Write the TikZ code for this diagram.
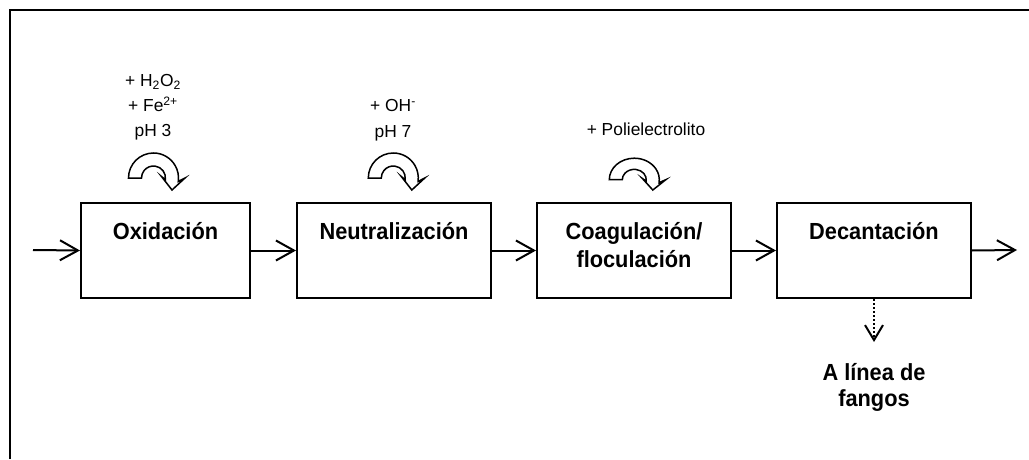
\documentclass[tikz,border=0pt]{standalone}
\usepackage{fontspec}
\setmainfont{Liberation Sans}
\newfontfamily\procfont{Liberation Sans}[FakeStretch=0.935]
\usetikzlibrary{arrows.meta}
\tikzset{
  proc/.style={draw, line width=2pt, minimum width=194pt, minimum height=95pt, inner sep=0pt},
  proctext/.style={font=\procfont\bfseries\fontsize{23.3}{28}\selectfont, inner sep=0pt, anchor=base},
  sludgetext/.style={font=\procfont\bfseries\fontsize{23.3}{26.5}\selectfont, inner sep=0pt, anchor=base},
  addtext/.style={font=\fontsize{17.4}{25}\selectfont, inner sep=0pt, anchor=base},
  flow/.style={line width=2pt, -{Straight Barb[length=18pt,width=20pt,line width=2pt]}},
  sludge/.style={line width=2pt, dash pattern=on 2pt off 2pt,
    -{Straight Barb[length=15pt,width=18pt,line width=2pt]}},
  pics/uturn/.style={code={
    \draw[line width=1.5pt, fill=white, line join=miter]
      (-25,0) arc[start angle=180, end angle=-8, radius=25]
      -- (31.5,0) -- (18.5,-12) -- (8,1.5) -- (-8:12)
      arc[start angle=-8, end angle=180, radius=12] -- cycle;
  }}
}
\begin{document}
\begin{tikzpicture}[x=1pt, y=1pt]
  \useasboundingbox (0,0) rectangle (1029,459);
  % open frame
  \draw[line width=2pt] (9.5,0) -- (9.5,449) -- (1029,449);

  % process units
  \node[proc, minimum width=169pt] (b1) at (165.5,208.5) {};
  \node[proc] (b2) at (394,208.5) {};
  \node[proc] (b3) at (634,208.5) {};
  \node[proc] (b4) at (874,208.5) {};

  \node[proctext] (t1) at ([yshift=-37pt]b1.north) {Oxidación};
  \node[proctext] (t2) at ([yshift=-37pt]b2.north) {Neutralización};
  \node[proctext] (t3) at ([yshift=-37pt]b3.north)
    {\begin{tabular}[t]{@{}c@{}}Coagulación/\\floculación\end{tabular}};
  \node[proctext] (t4) at ([yshift=-37pt]b4.north) {Decantación};

  % flow line
  \coordinate (in) at (33,209);
  \coordinate (out) at (1017,209);
  \draw[flow] (in) -- (b1.west);
  \draw[flow] (b1.east) -- (b2.west);
  \draw[flow] (b2.east) -- (b3.west);
  \draw[flow] (b3.east) -- (b4.west);
  \draw[flow] (b4.east) -- (out);

  % reagent dosing
  \node[addtext] (a1) at (153,372)
    {\begin{tabular}[t]{@{}c@{}}+ H\textsubscript{2}O\textsubscript{2}\\+ Fe\textsuperscript{2+}\\pH 3\end{tabular}};
  \node[addtext] (a2) at (393,347)
    {\begin{tabular}[t]{@{}c@{}}+ OH\textsuperscript{-}\\pH 7\end{tabular}};
  \node[addtext] (a3) at (646,323.5) {+ Polielectrolito};
  \pic (u1) at (153.5,281) {uturn};
  \pic (u2) at (393.3,281) {uturn};
  \pic[yscale=0.86] (u3) at (634.3,279.3) {uturn};

  % sludge outlet
  \coordinate (sink) at (874,117);
  \draw[sludge] (b4.south) -- (sink);
  \node[sludgetext] (s) at (874,79)
    {\begin{tabular}[t]{@{}c@{}}A línea de\\fangos\end{tabular}};
\end{tikzpicture}
\end{document}
